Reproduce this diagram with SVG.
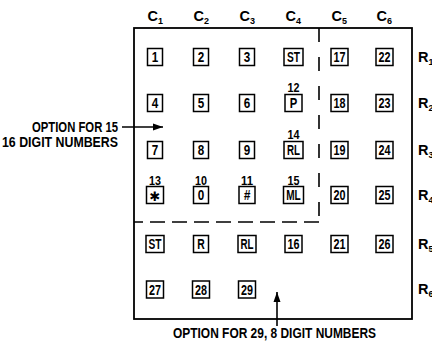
<svg xmlns="http://www.w3.org/2000/svg" width="432" height="343" viewBox="0 0 432 343">
<style>
text{font-family:"Liberation Sans",Arial,sans-serif;font-weight:bold;fill:#000}
.k{font-size:14px;text-anchor:middle}
.n{font-size:13.5px;text-anchor:middle}
.h{font-size:14.5px}
.r{font-size:14.5px}
.s{font-size:9px}
.lab{font-size:14.5px}
.box{fill:#fff;stroke:#000;stroke-width:1.5}
.frame{fill:none;stroke:#000;stroke-width:1.8}
.dash{fill:none;stroke:#000;stroke-width:1.6}
.arr{fill:none;stroke:#000;stroke-width:1.6}
</style>
<defs>
<marker id="ah" viewBox="0 0 10 10" refX="10" refY="5" markerWidth="10" markerHeight="10" markerUnits="userSpaceOnUse" orient="auto">
<path d="M0,1.5 L10,5 L0,8.5 Z" fill="#000"/>
</marker>
</defs>
<rect class="frame" x="134" y="28" width="278" height="291"/>
<g id="dividers">
<line class="dash" x1="319" y1="28" x2="319" y2="222" stroke-dasharray="14 15"/>
<line class="dash" x1="319" y1="222" x2="134" y2="222" stroke-dasharray="15 7"/>
</g>
<g id="headers">
<text class="h" x="147.5" y="21">C<tspan class="s" dy="3">1</tspan></text>
<text class="h" x="193.5" y="21">C<tspan class="s" dy="3">2</tspan></text>
<text class="h" x="239.5" y="21">C<tspan class="s" dy="3">3</tspan></text>
<text class="h" x="285.5" y="21">C<tspan class="s" dy="3">4</tspan></text>
<text class="h" x="331.5" y="21">C<tspan class="s" dy="3">5</tspan></text>
<text class="h" x="376.5" y="21">C<tspan class="s" dy="3">6</tspan></text>
<text class="r" x="418" y="62">R<tspan class="s" dy="3">1</tspan></text>
<text class="r" x="418" y="108">R<tspan class="s" dy="3">2</tspan></text>
<text class="r" x="418" y="155">R<tspan class="s" dy="3">3</tspan></text>
<text class="r" x="418" y="200">R<tspan class="s" dy="3">4</tspan></text>
<text class="r" x="418" y="249">R<tspan class="s" dy="3">5</tspan></text>
<text class="r" x="418" y="294">R<tspan class="s" dy="3">6</tspan></text>
</g>
<g id="k1"><rect class="box" x="147.5" y="48.5" width="15" height="17"/><text class="k" x="155" y="62" textLength="6.5" lengthAdjust="spacingAndGlyphs">1</text></g>
<g id="k2"><rect class="box" x="193.5" y="48.5" width="15" height="17"/><text class="k" x="201" y="62" textLength="6.5" lengthAdjust="spacingAndGlyphs">2</text></g>
<g id="k3"><rect class="box" x="239.5" y="48.5" width="15" height="17"/><text class="k" x="247" y="62" textLength="6.5" lengthAdjust="spacingAndGlyphs">3</text></g>
<g id="kST1"><rect class="box" x="284" y="48.5" width="19" height="17"/><text class="k" x="293.5" y="62" textLength="13" lengthAdjust="spacingAndGlyphs">ST</text></g>
<g id="k17"><rect class="box" x="331" y="48.5" width="17" height="17"/><text class="k" x="339.5" y="62" textLength="12" lengthAdjust="spacingAndGlyphs">17</text></g>
<g id="k22"><rect class="box" x="376" y="48.5" width="17" height="17"/><text class="k" x="384.5" y="62" textLength="12" lengthAdjust="spacingAndGlyphs">22</text></g>

<g id="k4"><rect class="box" x="147.5" y="94.5" width="15" height="17"/><text class="k" x="155" y="108" textLength="6.5" lengthAdjust="spacingAndGlyphs">4</text></g>
<g id="k5"><rect class="box" x="193.5" y="94.5" width="15" height="17"/><text class="k" x="201" y="108" textLength="6.5" lengthAdjust="spacingAndGlyphs">5</text></g>
<g id="k6"><rect class="box" x="239.5" y="94.5" width="15" height="17"/><text class="k" x="247" y="108" textLength="6.5" lengthAdjust="spacingAndGlyphs">6</text></g>
<g id="kP"><text class="n" x="293.5" y="92" textLength="12" lengthAdjust="spacingAndGlyphs">12</text><rect class="box" x="285" y="94.5" width="17" height="17"/><text class="k" x="293.5" y="108" textLength="7.5" lengthAdjust="spacingAndGlyphs">P</text></g>
<g id="k18"><rect class="box" x="331" y="94.5" width="17" height="17"/><text class="k" x="339.5" y="108" textLength="12" lengthAdjust="spacingAndGlyphs">18</text></g>
<g id="k23"><rect class="box" x="376" y="94.5" width="17" height="17"/><text class="k" x="384.5" y="108" textLength="12" lengthAdjust="spacingAndGlyphs">23</text></g>

<g id="k7"><rect class="box" x="147.5" y="141.5" width="15" height="17"/><text class="k" x="155" y="155" textLength="6.5" lengthAdjust="spacingAndGlyphs">7</text></g>
<g id="k8"><rect class="box" x="193.5" y="141.5" width="15" height="17"/><text class="k" x="201" y="155" textLength="6.5" lengthAdjust="spacingAndGlyphs">8</text></g>
<g id="k9"><rect class="box" x="239.5" y="141.5" width="15" height="17"/><text class="k" x="247" y="155" textLength="6.5" lengthAdjust="spacingAndGlyphs">9</text></g>
<g id="kRL1"><text class="n" x="293.5" y="139" textLength="12" lengthAdjust="spacingAndGlyphs">14</text><rect class="box" x="284" y="141.5" width="19" height="17"/><text class="k" x="293.5" y="155" textLength="13" lengthAdjust="spacingAndGlyphs">RL</text></g>
<g id="k19"><rect class="box" x="331" y="141.5" width="17" height="17"/><text class="k" x="339.5" y="155" textLength="12" lengthAdjust="spacingAndGlyphs">19</text></g>
<g id="k24"><rect class="box" x="376" y="141.5" width="17" height="17"/><text class="k" x="384.5" y="155" textLength="12" lengthAdjust="spacingAndGlyphs">24</text></g>

<g id="kStar"><text class="n" x="155" y="185" textLength="12" lengthAdjust="spacingAndGlyphs">13</text><rect class="box" x="146.5" y="186.5" width="17" height="17"/><text class="k" x="155" y="200.5" style="font-family:'DejaVu Sans',sans-serif;font-size:13px">✱</text></g>
<g id="k0"><text class="n" x="201" y="185" textLength="12" lengthAdjust="spacingAndGlyphs">10</text><rect class="box" x="193.5" y="186.5" width="15" height="17"/><text class="k" x="201" y="200" textLength="6.5" lengthAdjust="spacingAndGlyphs">0</text></g>
<g id="kHash"><text class="n" x="247" y="185" textLength="12" lengthAdjust="spacingAndGlyphs">11</text><rect class="box" x="239" y="186.5" width="16" height="17"/><text class="k" x="247" y="200" style="font-style:italic" textLength="6.5" lengthAdjust="spacingAndGlyphs">#</text></g>
<g id="kML"><text class="n" x="293.5" y="185" textLength="12" lengthAdjust="spacingAndGlyphs">15</text><rect class="box" x="283.5" y="186.5" width="20" height="17"/><text class="k" x="293.5" y="200" textLength="14.5" lengthAdjust="spacingAndGlyphs">ML</text></g>
<g id="k20"><rect class="box" x="331" y="186.5" width="17" height="17"/><text class="k" x="339.5" y="200" textLength="12" lengthAdjust="spacingAndGlyphs">20</text></g>
<g id="k25"><rect class="box" x="376" y="186.5" width="17" height="17"/><text class="k" x="384.5" y="200" textLength="12" lengthAdjust="spacingAndGlyphs">25</text></g>

<g id="kST2"><rect class="box" x="146" y="235.5" width="18" height="17"/><text class="k" x="155" y="249" textLength="13" lengthAdjust="spacingAndGlyphs">ST</text></g>
<g id="kR"><rect class="box" x="193.5" y="235.5" width="15" height="17"/><text class="k" x="201" y="249" textLength="7.5" lengthAdjust="spacingAndGlyphs">R</text></g>
<g id="kRL2"><rect class="box" x="238" y="235.5" width="18" height="17"/><text class="k" x="247" y="249" textLength="13" lengthAdjust="spacingAndGlyphs">RL</text></g>
<g id="k16"><rect class="box" x="285" y="235.5" width="17" height="17"/><text class="k" x="293.5" y="249" textLength="12" lengthAdjust="spacingAndGlyphs">16</text></g>
<g id="k21"><rect class="box" x="331" y="235.5" width="17" height="17"/><text class="k" x="339.5" y="249" textLength="12" lengthAdjust="spacingAndGlyphs">21</text></g>
<g id="k26"><rect class="box" x="376" y="235.5" width="17" height="17"/><text class="k" x="384.5" y="249" textLength="12" lengthAdjust="spacingAndGlyphs">26</text></g>

<g id="k27"><rect class="box" x="146.5" y="281" width="17" height="17"/><text class="k" x="155" y="294.5" textLength="12" lengthAdjust="spacingAndGlyphs">27</text></g>
<g id="k28"><rect class="box" x="192.5" y="281" width="17" height="17"/><text class="k" x="201" y="294.5" textLength="12" lengthAdjust="spacingAndGlyphs">28</text></g>
<g id="k29"><rect class="box" x="238.5" y="281" width="17" height="17"/><text class="k" x="247" y="294.5" textLength="12" lengthAdjust="spacingAndGlyphs">29</text></g>

<g id="note15">
<text class="lab" x="118" y="132" text-anchor="end" textLength="86" lengthAdjust="spacingAndGlyphs">OPTION FOR 15</text>
<text class="lab" x="2" y="147" textLength="116" lengthAdjust="spacingAndGlyphs">16 DIGIT NUMBERS</text>
</g>
<g id="note29">
<text class="lab" x="173" y="338" textLength="203" lengthAdjust="spacingAndGlyphs">OPTION FOR 29, 8 DIGIT NUMBERS</text>
</g>
<g id="connectors">
<line class="arr" x1="122" y1="127" x2="163" y2="127" marker-end="url(#ah)"/>
<line class="arr" x1="277" y1="326" x2="277" y2="292" marker-end="url(#ah)"/>
</g>
</svg>
